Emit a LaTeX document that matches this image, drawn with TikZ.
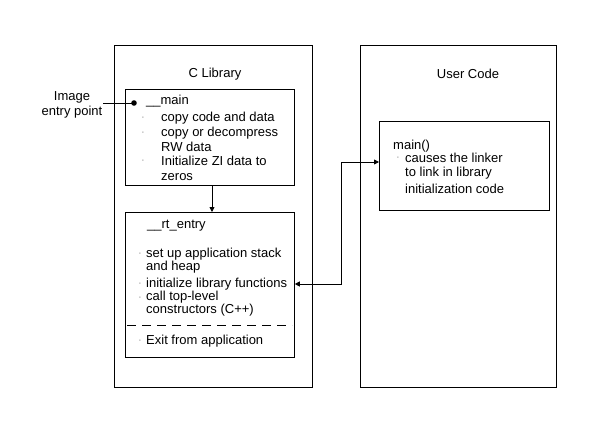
\documentclass[tikz,border=0pt]{standalone}
\usepackage{fontspec}
\setmainfont{Liberation Sans}
\usetikzlibrary{arrows.meta}
\begin{document}
\begin{tikzpicture}[x=1pt,y=-1pt,
  box/.style={draw,line width=0.8pt},
  txt/.style={anchor=west,inner sep=0pt,font=\fontsize{13}{15}\selectfont},
  ctxt/.style={inner sep=0pt,font=\fontsize{13}{15}\selectfont,align=center},
  bul/.style={anchor=center,inner sep=0pt,font=\fontsize{7}{8}\selectfont},
  arr/.style={-{Triangle[length=5pt,width=5pt]},line width=0.8pt}]
\useasboundingbox (0,0) rectangle (611,431);
% outer boxes
\node[box,minimum width=198,minimum height=342,anchor=north west,inner sep=0] (clib) at (114,45) {};
\node[box,minimum width=196,minimum height=342,anchor=north west,inner sep=0] (user) at (360,45) {};
\node[ctxt] (clibt) at (215,74) {C Library};
\node[ctxt] (usert) at (468,74) {User Code};
% __main box
\node[box,minimum width=169,minimum height=96,anchor=north west,inner sep=0] (mainb) at (125,89) {};
\node[txt] (m0) at (146,101) {\_\_main};
\node[bul] (b1) at (143,118) {·};
\node[txt] (m1) at (161,118) {copy code and data};
\node[bul] (b2) at (143,133) {·};
\node[txt] (m2) at (161,133) {copy or decompress};
\node[txt] (m3) at (161,147) {RW data};
\node[bul] (b3) at (143,161) {·};
\node[txt] (m4) at (161,161) {Initialize ZI data to};
\node[txt] (m5) at (161,177) {zeros};
% rt_entry box
\node[box,minimum width=169,minimum height=145,anchor=north west,inner sep=0] (rtb) at (125,212) {};
\node[txt] (r0) at (147,226) {\_\_rt\_entry};
\node[bul] (c1) at (140,254) {·};
\node[txt] (r1) at (146,254) {set up application stack};
\node[txt] (r2) at (146,267) {and heap};
\node[bul] (c2) at (140,284) {·};
\node[txt] (r3) at (146,284) {initialize library functions};
\node[bul] (c3) at (140,298) {·};
\node[txt] (r4) at (146,297) {call top-level};
\node[txt] (r5) at (146,310) {constructors (C++)};
\node[bul] (c4) at (140,341) {·};
\node[txt] (r6) at (146,341) {Exit from application};
\coordinate (dl) at (127,325);
\coordinate (dr) at (292,325);
\draw[dashed,dash pattern=on 9pt off 6pt,line width=0.8pt] (dl) -- (dr);
% main() box
\node[box,minimum width=170,minimum height=89,anchor=north west,inner sep=0] (umain) at (379,121) {};
\node[txt] (u0) at (393,146) {main()};
\node[bul] (d1) at (398,158) {·};
\node[txt] (u1) at (405,158) {causes the linker};
\node[txt] (u2) at (405,173) {to link in library};
\node[txt] (u3) at (405,189) {initialization code};
% image entry point
\node[ctxt] (img) at (72,105) {Image\\entry point};
\coordinate (dot) at (134,103);
\coordinate (ls) at (103,103);
\draw[line width=0.8pt] (ls) -- (dot);
\fill (dot) circle (2.8pt);
% arrows
\draw[arr] (mainb.south -| 212,0) -- (rtb.north -| 212,0);
\coordinate (k1) at (341,284);
\coordinate (k2) at (341,162);
\draw[arr,{Triangle[length=5pt,width=5pt]}-{Triangle[length=5pt,width=5pt]}] (rtb.east |- k1) -- (k1) -- (k2) -- (umain.west |- k2);
\end{tikzpicture}
\end{document}
